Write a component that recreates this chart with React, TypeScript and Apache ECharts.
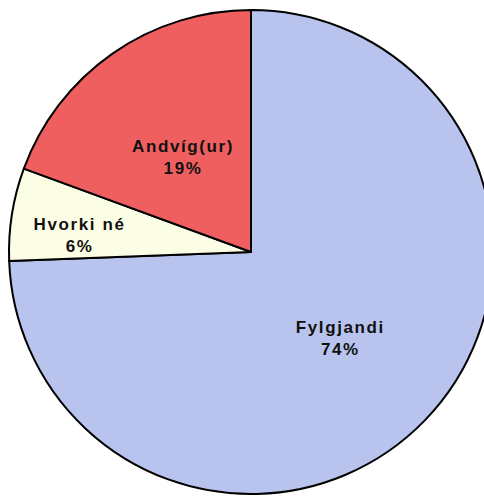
import React, { useEffect, useRef } from "react";
import * as echarts from "echarts";

const categories = ["Fylgjandi", "Hvorki né", "Andvíg(ur)"];
const values = [74.4, 6.2, 19.4];
const colors = ["#B8C4EE", "#FBFEE4", "#EF5F5F"];

export default function App() {
  const ref = useRef<HTMLDivElement>(null);
  useEffect(() => {
    document.body.style.margin = "0";
    const chart = echarts.init(ref.current!, null, { renderer: "svg" });
    chart.setOption({
      animation: false,
      backgroundColor: "#ffffff",
      series: [
        {
          type: "pie",
          center: [251, 252],
          radius: 242,
          startAngle: 90,
          clockwise: true,
          silent: true,
          data: categories.map((name, i) => ({
            name,
            value: values[i],
            itemStyle: { color: colors[i] },
          })),
          itemStyle: { borderColor: "#000000", borderWidth: 2 },
          label: {
            show: true,
            position: "inside",
            formatter: (p: any) => `${p.name}\n${Math.round(p.value)}%`,
            color: "#111111",
            fontFamily: "Liberation Sans, Arial, sans-serif",
            fontWeight: "bold",
            fontSize: 17,
            lineHeight: 22,
            align: "center",
          },
          labelLayout: (params: any) => {
            if (params.dataIndex === 1) return { dx: -49, dy: 3 };
            if (params.dataIndex === 2) return { dx: 3, dy: 7 };
            return {};
          },
          labelLine: { show: false },
        },
      ],
    });
    return () => chart.dispose();
  }, []);
  return (
    <>
      <style>{`.pie-wrap svg text { letter-spacing: 1.6px; }`}</style>
      <div className="pie-wrap" ref={ref} style={{ width: 484, height: 497 }} />
    </>
  );
}
